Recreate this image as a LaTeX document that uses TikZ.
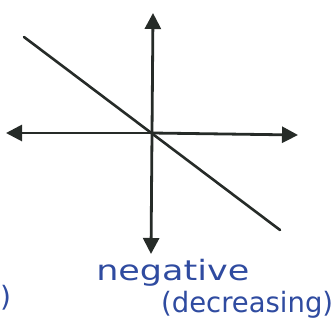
\documentclass[tikz,border=0pt]{standalone}
\usepackage{fontspec}
\setmainfont{DejaVu Sans}
\usetikzlibrary{arrows.meta}
\definecolor{ink}{HTML}{262B28}
\definecolor{pen}{HTML}{2F4BA0}
\tikzset{
  axis/.style={draw=ink, line width=2.8pt, -{Triangle[length=16pt,width=16pt]}},
  graphline/.style={draw=ink, line width=2.6pt, line cap=round},
  hand/.style={text=pen, font=\fontsize{28}{28}\selectfont, inner sep=0pt}
}
\begin{document}
\begin{tikzpicture}[x=1pt,y=-1pt]
\useasboundingbox (0,0) rectangle (336,326);
\coordinate (O) at (152,133);
\coordinate (top) at (153,13);
\coordinate (bot) at (151,254);
\coordinate (lft) at (6,133);
\coordinate (rgt) at (298,135);
\coordinate (la) at (24,37);
\coordinate (lb) at (280,230);
\draw[axis] (O) -- (top);
\draw[axis] (O) -- (bot);
\draw[axis] (O) -- (lft);
\draw[axis] (O) -- (rgt);
\draw[graphline] (la) -- (lb);
\node[hand, anchor=base west, xscale=1.25] (neg) at (96,280) {negative};
\node[hand, anchor=base west, xscale=0.98] (dec) at (161,312) {(decreasing)};
\node[hand, anchor=base west] (par) at (0,306) {)};
\end{tikzpicture}
\end{document}
